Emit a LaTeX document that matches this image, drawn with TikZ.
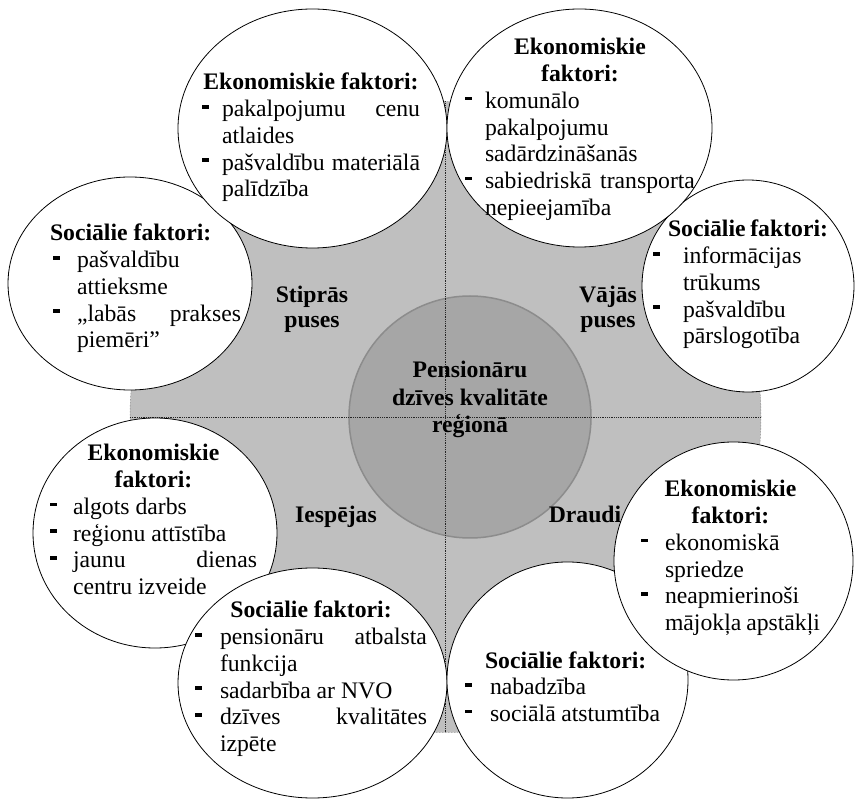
\documentclass[tikz,border=0pt]{standalone}
\usepackage{fontspec}
\setmainfont{Liberation Serif}
\usetikzlibrary{shapes.geometric}
\definecolor{diskgray}{HTML}{BFBFBF}
\definecolor{coregray}{HTML}{A6A6A6}
\definecolor{coreedge}{HTML}{8C8C8C}
\newlength\xind
\newcommand\xBul{\makebox[\xind][l]{\rule[8pt]{7pt}{3.6pt}}}
\newcommand\xTitle[1]{\hbox to\hsize{\hfil\textbf{#1}\hfil}}
\newcommand\xTitleOff[2]{\hbox to\hsize{\hspace*{#1}\textbf{#2}\hfil}}
\newcommand\xItem[1]{\hbox to\hsize{\xBul #1\hfil}}
\newcommand\xItemJ[2]{\hbox to\hsize{\xBul #1\hfill #2}}
\newcommand\xCont[1]{\hbox to\hsize{\hspace*{\xind}#1\hfil}}
\newcommand\xBlock[3]{\vtop{\hsize=#1\relax\xind=#2\relax\baselineskip=26.7pt\lineskiplimit=-50pt\lineskip=0pt #3}}
\tikzset{
  disk/.style={circle, fill=diskgray, draw=black!60, densely dotted, line width=0.5pt, minimum size=631pt, inner sep=0pt, outer sep=0pt},
  core/.style={circle, fill=coregray, draw=coreedge, line width=1.5pt, minimum size=242pt, inner sep=0pt, outer sep=0pt},
  divider/.style={densely dotted, line width=0.8pt, draw=black!85},
  oval/.style={ellipse, fill=white, draw=black, line width=0.8pt, inner sep=0pt, outer sep=0pt},
  txt/.style={inner sep=0pt, outer sep=0pt, anchor=base west, font=\fontsize{23.7pt}{26.7pt}\selectfont},
  lbl/.style={inner sep=0pt, outer sep=0pt, anchor=base, font=\fontsize{23.7pt}{26.7pt}\selectfont\bfseries},
}
\begin{document}
\begin{tikzpicture}[x=1pt, y=-1pt]
\useasboundingbox (0,0) rectangle (855,799);
% background disk and core
\node[disk] (disk) at (445.5,417) {};
\node[core] (core) at (470,417) {};
\draw[divider] (disk.north) -- (disk.south);
\draw[divider] (disk.west) -- (disk.east);
% ovals
\node[oval, minimum width=244pt, minimum height=213pt] (socS) at (130,283.5) {};
\node[oval, minimum width=269pt, minimum height=239pt] (ekoS) at (312.5,128.5) {};
\node[oval, minimum width=212pt, minimum height=212pt] (socW) at (748,286) {};
\node[oval, minimum width=265pt, minimum height=238pt] (ekoW) at (579.5,128) {};
\node[oval, minimum width=244pt, minimum height=230pt] (ekoO) at (155,533) {};
\node[oval, minimum width=269pt, minimum height=230pt] (socO) at (312.5,683) {};
\node[oval, minimum width=241pt, minimum height=236pt] (socT) at (567.5,680) {};
\node[oval, minimum width=239pt, minimum height=238pt] (ekoT) at (733.5,561) {};
% quadrant labels
\node[lbl] (lS) at (312,303) {\vtop{\hsize=120pt\baselineskip=25pt\xTitle{Stiprās}\xTitle{puses}}};
\node[lbl] (lW) at (608,303) {\vtop{\hsize=120pt\baselineskip=25pt\xTitle{Vājās}\xTitle{puses}}};
\node[lbl] (lO) at (336,523) {Iespējas};
\node[lbl] (lT) at (585,523) {Draudi};
\node[lbl] (ctext) at (470,378) {\vtop{\hsize=220pt\baselineskip=27.5pt\xTitle{Pensionāru}\xTitle{dzīves kvalitāte}\xTitle{reģionā}}};
% text blocks
\node[txt] (tEkoS) at (202,90) {\xBlock{218pt}{20pt}{\xTitle{Ekonomiskie faktori:}\xItemJ{pakalpojumu}{cenu}\xCont{atlaides}\xItemJ{pašvaldību}{materiālā}\xCont{palīdzība}}};
\node[txt] (tEkoW) at (465,55) {\xBlock{230pt}{20pt}{\xTitle{Ekonomiskie}\xTitle{faktori:}\xItem{komunālo}\xCont{pakalpojumu}\xCont{sadārdzināšanās}\xItemJ{sabiedriskā}{transporta}\xCont{nepieejamība}}};
\node[txt] (tSocS) at (53,241) {\xBlock{188pt}{24pt}{\xTitleOff{-3pt}{Sociālie faktori:}\xItem{pašvaldību}\xCont{attieksme}\xItemJ{„labās}{prakses}\xCont{piemēri”}}};
\node[txt] (tSocW) at (653,237) {\xBlock{175pt}{30pt}{\xTitleOff{15pt}{Sociālie faktori:}\xItem{informācijas}\xCont{trūkums}\xItem{pašvaldību}\xCont{pārslogotība}}};
\node[txt] (tEkoO) at (50,461) {\xBlock{207pt}{23pt}{\xTitle{Ekonomiskie}\xTitle{faktori:}\xItem{algots darbs}\xItem{reģionu attīstība}\xItemJ{jaunu}{dienas}\xCont{centru izveide}}};
\node[txt] (tSocO) at (195,618) {\xBlock{232pt}{25pt}{\xTitle{Sociālie faktori:}\xItemJ{pensionāru}{atbalsta}\xCont{funkcija}\xItem{sadarbība ar NVO}\xItemJ{dzīves}{kvalitātes}\xCont{izpēte}}};
\node[txt] (tSocT) at (465,668) {\xBlock{195pt}{25pt}{\xTitleOff{20pt}{Sociālie faktori:}\xItem{nabadzība}\xItem{sociālā atstumtība}}};
\node[txt] (tEkoT) at (641,497) {\xBlock{179pt}{24pt}{\xTitle{Ekonomiskie}\xTitle{faktori:}\xItem{ekonomiskā}\xCont{spriedze}\xItem{neapmierinoši}\xCont{mājokļa apstākļi}}};
\end{tikzpicture}
\end{document}
